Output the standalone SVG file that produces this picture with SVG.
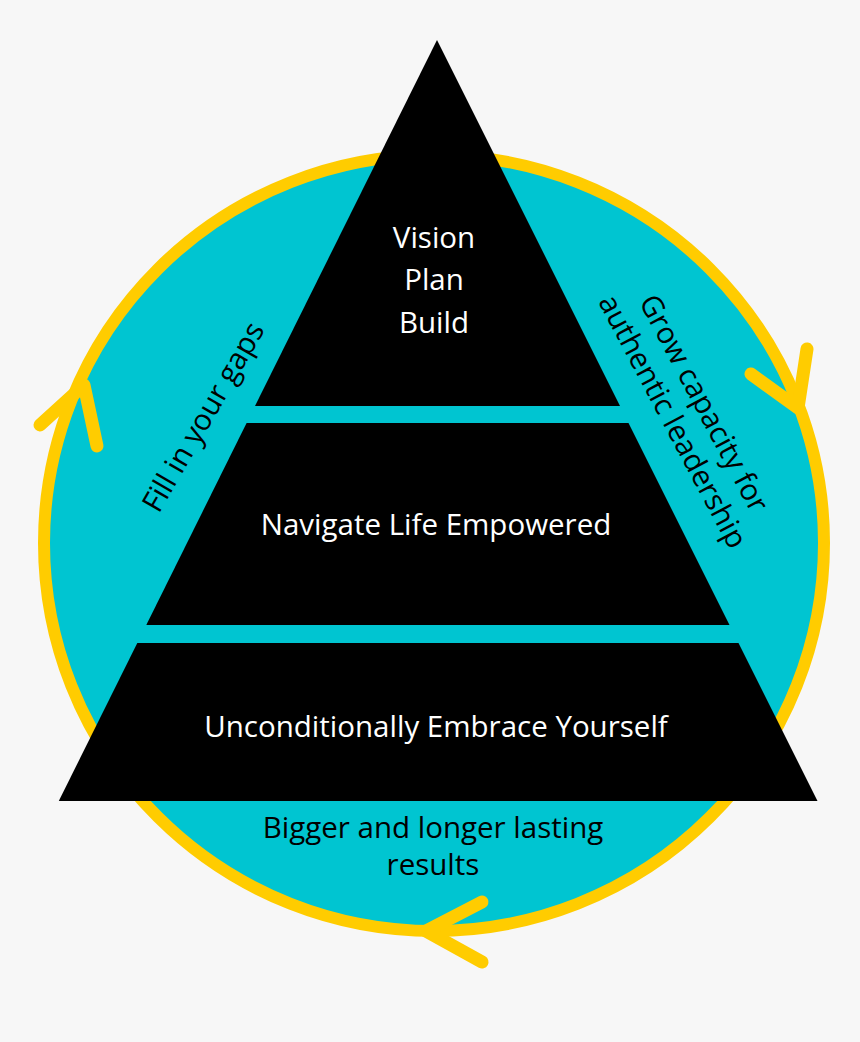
<svg xmlns="http://www.w3.org/2000/svg" width="860" height="1042" viewBox="0 0 860 1042">
  <style>
    .tier { fill: #000000; }
    .wt { font-family: "Open Sans", "Noto Sans", "Liberation Sans", sans-serif; font-size: 29.5px; fill: #FFFFFF; text-anchor: middle; }
    .bt { font-family: "Open Sans", "Noto Sans", "Liberation Sans", sans-serif; font-size: 29.5px; fill: #000000; text-anchor: middle; }
    .arrow { fill: none; stroke: #FFCC00; stroke-width: 13; stroke-linecap: round; stroke-linejoin: round; }
  </style>
  <rect x="0" y="0" width="860" height="1042" fill="#F7F7F7"/>
  <g id="cycle">
    <ellipse cx="434" cy="543" rx="390" ry="388" fill="#00C5D1" stroke="#FFCC00" stroke-width="12"/>
  </g>
  <g id="connectors">
    <polyline class="arrow" points="40,425 84,385 97,446"/>
    <polyline class="arrow" points="751,374 798,408 807,349"/>
    <polyline class="arrow" points="482,902 426,931 482,962"/>
  </g>
  <g id="tier-top">
    <polygon class="tier" points="437,40 620,406 255,406"/>
    <text class="wt" x="434" y="248">Vision</text>
    <text class="wt" x="434" y="290">Plan</text>
    <text class="wt" x="434" y="333">Build</text>
  </g>
  <g id="tier-middle">
    <polygon class="tier" points="246.6,423 628.5,423 729.5,625 146.3,625"/>
    <text class="wt" x="436" y="535">Navigate Life Empowered</text>
  </g>
  <g id="tier-bottom">
    <polygon class="tier" points="137.3,643 738.5,643 817.5,801 58.8,801"/>
    <text class="wt" x="436" y="737">Unconditionally Embrace Yourself</text>
  </g>
  <g id="label-left">
    <text class="bt" transform="translate(212,422) rotate(-60)" x="0" y="0">Fill in your gaps</text>
  </g>
  <g id="label-right">
    <text class="bt" transform="translate(695,408) rotate(62)" x="0" y="0">Grow capacity for</text>
    <text class="bt" transform="translate(664,426) rotate(62)" x="0" y="0">authentic leadership</text>
  </g>
  <g id="label-bottom">
    <text class="bt" x="433" y="838">Bigger and longer lasting</text>
    <text class="bt" x="433" y="875">results</text>
  </g>
</svg>
